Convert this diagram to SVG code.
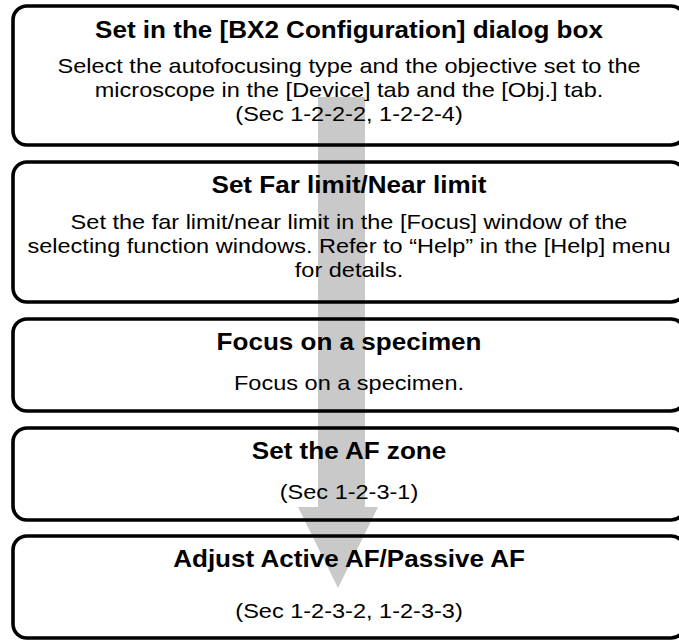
<svg xmlns="http://www.w3.org/2000/svg" width="679" height="642" viewBox="0 0 679 642">
<style>
.box{fill:none;stroke:#000;stroke-width:3.6}
.t{font-family:"Liberation Sans",Arial,sans-serif;font-weight:bold;font-size:23px;text-anchor:middle;fill:#000}
.b{font-family:"Liberation Sans",Arial,sans-serif;font-size:20px;text-anchor:middle;fill:#000}
.arrow{fill:#c9c9c9}
</style>
<rect x="0" y="0" width="679" height="642" fill="#fff"/>
<g id="connectors">
<path class="arrow" d="M318,97 H365 V507 H378 L338,588 L298,507 H318 Z"/>
</g>
<g id="node1">
<rect class="box" x="13" y="6" width="672" height="139" rx="14"/>
<text class="t" transform="matrix(1.133 0 0 1 -46.4 0)" x="349" y="38">Set in the [BX2 Configuration] dialog box</text>
<g transform="matrix(1.176 0 0 1 -61.4 0)">
<text class="b" x="349" y="73">Select the autofocusing type and the objective set to the</text>
<text class="b" x="349" y="97">microscope in the [Device] tab and the [Obj.] tab.</text>
<text class="b" x="349" y="121">(Sec 1-2-2-2, 1-2-2-4)</text>
</g>
</g>
<g id="node2">
<rect class="box" x="13" y="162" width="672" height="140" rx="14"/>
<text class="t" transform="matrix(1.133 0 0 1 -46.4 0)" x="349" y="193">Set Far limit/Near limit</text>
<g transform="matrix(1.176 0 0 1 -61.4 0)">
<text class="b" x="349" y="229">Set the far limit/near limit in the [Focus] window of the</text>
<text class="b" x="349" y="253">selecting function windows. Refer to “Help” in the [Help] menu</text>
<text class="b" x="349" y="277">for details.</text>
</g>
</g>
<g id="node3">
<rect class="box" x="13" y="319" width="672" height="92" rx="14"/>
<text class="t" transform="matrix(1.133 0 0 1 -46.4 0)" x="349" y="350">Focus on a specimen</text>
<text class="b" transform="matrix(1.176 0 0 1 -61.4 0)" x="349" y="390">Focus on a specimen.</text>
</g>
<g id="node4">
<rect class="box" x="13" y="428" width="672" height="92" rx="14"/>
<text class="t" transform="matrix(1.133 0 0 1 -46.4 0)" x="349" y="459">Set the AF zone</text>
<text class="b" transform="matrix(1.176 0 0 1 -61.4 0)" x="349" y="499">(Sec 1-2-3-1)</text>
</g>
<g id="node5">
<rect class="box" x="13" y="536" width="672" height="102" rx="14"/>
<text class="t" transform="matrix(1.133 0 0 1 -46.4 0)" x="349" y="567">Adjust Active AF/Passive AF</text>
<text class="b" transform="matrix(1.176 0 0 1 -61.4 0)" x="349" y="618">(Sec 1-2-3-2, 1-2-3-3)</text>
</g>
</svg>
